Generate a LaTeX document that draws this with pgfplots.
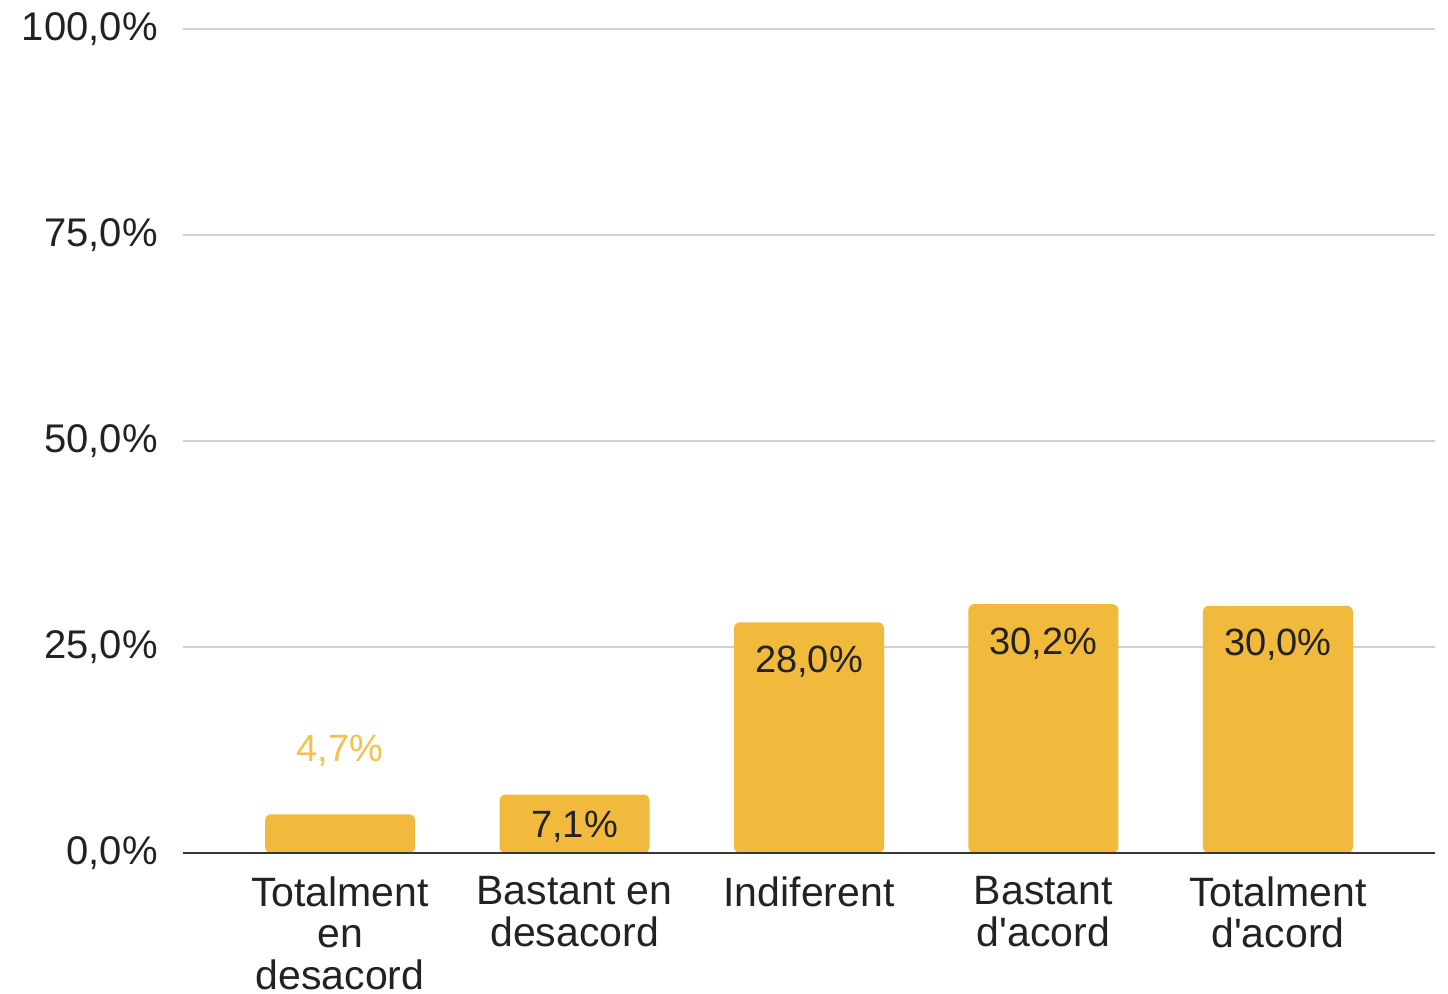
\documentclass[border=0pt]{standalone}
\usepackage{fontspec}
\setmainfont{Liberation Sans}
\usepackage{pgfplots}
\pgfplotsset{compat=1.18}
\definecolor{baryellow}{HTML}{F1BA3C}
\definecolor{labyellow}{HTML}{F2C14E}
\definecolor{gridgray}{HTML}{D0D0D0}
\definecolor{txt}{HTML}{222222}
\begin{document}
\begin{tikzpicture}
\useasboundingbox (-91.5pt,-70pt) rectangle (632.5pt,426.5pt);
\begin{axis}[
  at={(0,0)}, anchor=south west,
  scale only axis, width=626pt, height=412pt,
  xmin=-0.67, xmax=4.67, ymin=0, ymax=100,
  clip=false,
  axis line style={draw=none},
  tick style={draw=none},
  ymajorgrids, grid style={draw=gridgray, line width=1pt},
  ytick={0,25,50,75,100},
  xtick={0,1,2,3,4},
  xticklabels={{Totalment\\en\\desacord},{Bastant en\\desacord},{Indiferent},{Bastant\\d\textquotesingle acord},{Totalment\\d\textquotesingle acord}},
  /pgf/number format/.cd, fixed, fixed zerofill, precision=1, use comma, assume math mode=true,
  /pgfplots/.cd,
  yticklabel={\pgfmathprintnumber{\tick}\%},
  yticklabel style={anchor=east, inner sep=0pt, xshift=-12.5pt, text=txt, font=\fontsize{20}{21}\selectfont},
  xticklabel style={anchor=north, inner sep=0pt, yshift=-11.5pt, align=center, text=txt, font=\fontsize{20.5}{20.8}\selectfont},
]
\addplot[ybar, bar width=75pt, bar shift=0pt, fill=baryellow, draw=none, rounded corners=3pt,
  nodes near coords={\pgfmathprintnumber{\pgfplotspointmeta}\%},
  every node near coord/.append style={anchor=base, inner sep=0pt, yshift=26.5pt, text=labyellow, font=\fontsize{19}{21}\selectfont, rounded corners=0pt}]
  coordinates {(0,4.7)};
\addplot[ybar, bar width=75pt, bar shift=0pt, fill=baryellow, draw=none, rounded corners=3pt,
  nodes near coords={\pgfmathprintnumber{\pgfplotspointmeta}\%},
  every node near coord/.append style={anchor=base, inner sep=0pt, yshift=-21.5pt, text=txt, font=\fontsize{19}{21}\selectfont, rounded corners=0pt}]
  coordinates {(1,7.1)};
\addplot[ybar, bar width=75pt, bar shift=0pt, fill=baryellow, draw=none, rounded corners=3pt,
  nodes near coords={\pgfmathprintnumber{\pgfplotspointmeta}\%},
  every node near coord/.append style={anchor=base, inner sep=0pt, yshift=-25pt, text=txt, font=\fontsize{19}{21}\selectfont, rounded corners=0pt}]
  coordinates {(2,28.0) (3,30.2) (4,30.0)};
\draw[draw=txt!90, line width=1pt] (axis cs:-0.67,0) -- (axis cs:4.67,0);
\end{axis}
\end{tikzpicture}
\end{document}
